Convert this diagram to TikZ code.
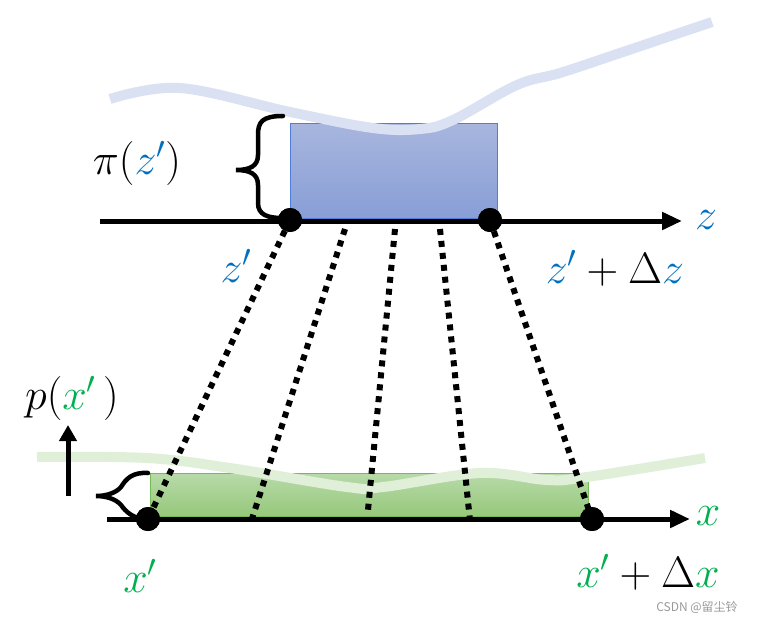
\RequirePackage{fix-cm}
\documentclass[tikz,border=0pt]{standalone}
\usepackage{fontspec}
\newfontfamily\cjk{Noto Sans CJK SC}
\usetikzlibrary{arrows.meta}
\definecolor{zblue}{RGB}{0,112,192}
\definecolor{xgreen}{RGB}{0,176,80}
\definecolor{curveblue}{RGB}{218,225,243}
\definecolor{curvegreen}{RGB}{224,239,215}
\definecolor{rbtop}{RGB}{168,182,222}
\definecolor{rbbot}{RGB}{136,158,214}
\definecolor{rbedge}{RGB}{80,125,215}
\definecolor{rgtop}{RGB}{184,218,170}
\definecolor{rgbot}{RGB}{150,200,122}
\definecolor{rgedge}{RGB}{120,185,90}
\tikzset{
  axisline/.style={line width=5pt,-{Triangle[length=20pt,width=17pt]}},
  dotline/.style={line width=6pt,dash pattern=on 6pt off 6pt},
  pt/.style={circle,fill=black,inner sep=0pt,minimum size=24pt},
  brace/.style={line width=4.5pt,line cap=round},
  lbl/.style={inner sep=0pt,font=\fontsize{44}{50}\selectfont},
  softcurve/.style={line width=10pt,line cap=butt},
}
\begin{document}
\begin{tikzpicture}[x=1pt,y=-1pt]
\useasboundingbox (0,0) rectangle (760,619);
% rectangles
\shade[top color=rbtop,bottom color=rbbot,draw=rbedge,line width=0.8pt] (290,123) rectangle (497,218);
\shade[top color=rgtop,bottom color=rgbot,draw=rgedge,line width=0.8pt] (150,473) rectangle (588,516);
% soft curves
\draw[softcurve,curveblue] plot[smooth,tension=0.6] coordinates {(110,99) (180,88) (290,112) (373,128) (420,129) (453,120) (517,85) (560,73) (620,53) (712,22)};
\draw[softcurve,curvegreen] plot[smooth,tension=0.6] coordinates {(37,457) (147,458) (230,468) (347,487) (383,487) (480,473) (547,480) (587,477) (705,458)};
% axes
\coordinate (zs) at (100,221);
\coordinate (ze) at (682,221);
\coordinate (xs) at (107,519);
\coordinate (xe) at (690,519);
\draw[axisline] (zs) -- (ze);
\draw[axisline] (xs) -- (xe);
% points
\node[pt] (z1) at (290,220) {};
\node[pt] (z2) at (490,220) {};
\node[pt] (x1) at (148,519) {};
\node[pt] (x2) at (592,519) {};
% intermediate mapping lines
\coordinate (a1) at (345,229);
\coordinate (b1) at (252,519);
\coordinate (a2) at (395,229);
\coordinate (b2) at (368,510);
\coordinate (a3) at (440,229);
\coordinate (b3) at (470,521);
\draw[dotline] (z1.center) -- (x1.center);
\draw[dotline] (a1) -- (b1);
\draw[dotline] (a2) -- (b2);
\draw[dotline] (a3) -- (b3);
\draw[dotline] (z2.center) -- (x2.center);
\node[pt] at (z1) {};
\node[pt] at (z2) {};
\node[pt] at (x1) {};
\node[pt] at (x2) {};
% braces
\draw[brace] (283,116) .. controls (262,116) and (258,122) .. (258,135) -- (258,155)
  .. controls (258,166) and (250,170) .. (236,170)
  .. controls (250,170) and (258,174) .. (258,185) -- (258,203)
  .. controls (258,215) and (268,218) .. (282,218);
\draw[brace] (148,473) .. controls (132,472) and (126,479) .. (121,487)
  .. controls (116,493) and (106,496) .. (96,496)
  .. controls (106,496) and (116,499) .. (121,505)
  .. controls (126,512) and (133,518) .. (144,519);
% up arrow
\coordinate (ua) at (68,496);
\coordinate (ub) at (68,425);
\draw[line width=5pt,-{Triangle[length=16pt,width=17pt]}] (ua) -- (ub);
% labels
\node[lbl] (pz) at (137,163) {$\pi(\textcolor{zblue}{z'})$};
\node[lbl,text=zblue] (lz1) at (236,266) {$z'$};
\node[lbl] (lz2) at (615,268) {$\textcolor{zblue}{z'}+\Delta\textcolor{zblue}{z}$};
\node[lbl,text=zblue] (lz) at (706,220) {$z$};
\node[lbl] (px) at (72,398) {$p(\textcolor{xgreen}{x'}\,)$};
\node[lbl,text=xgreen] (lx1) at (140,576) {$x'$};
\node[lbl] (lx2) at (648,572) {$\textcolor{xgreen}{x'}+\Delta\textcolor{xgreen}{x}$};
\node[lbl,text=xgreen] (lx) at (708,516) {$x$};
\node[inner sep=0pt,text=gray!80,font=\fontsize{12}{14}\cjk] (wm) at (697,607) {CSDN @留尘铃};
\end{tikzpicture}
\end{document}
